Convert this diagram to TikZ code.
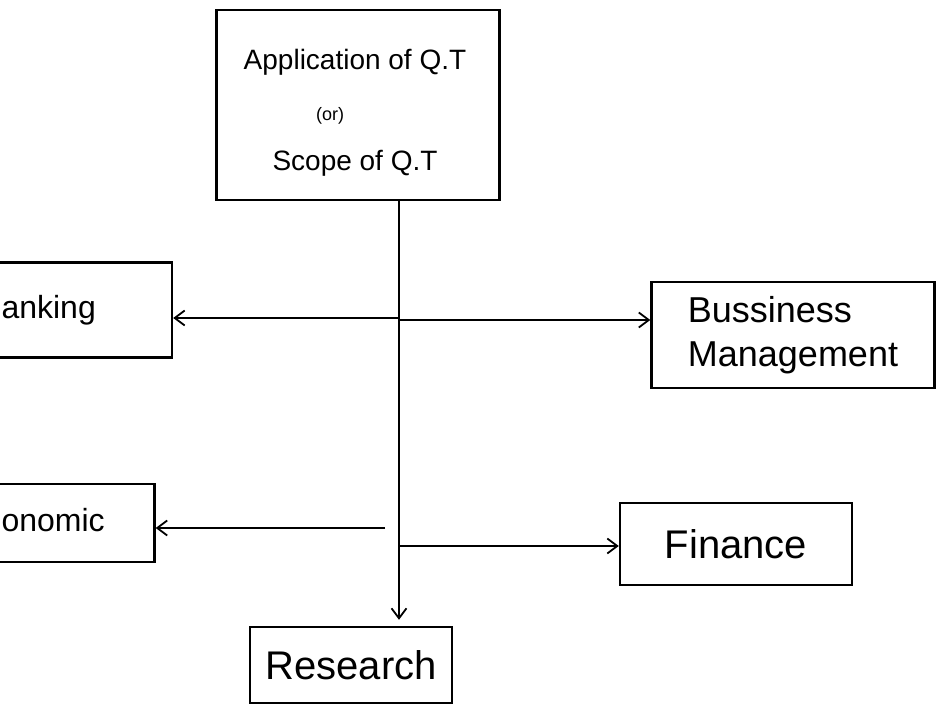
\documentclass[tikz,border=0pt]{standalone}
\usepackage{fontspec}
\setmainfont{Liberation Sans}
\usetikzlibrary{arrows.meta}
\begin{document}
\begin{tikzpicture}[x=1pt,y=-1pt,
		box/.style={draw, line width=2.4pt, inner sep=0pt},
		conn/.style={line width=2.2pt, -{Straight Barb[length=10pt,width=15pt,line width=1.8pt]}},
		big/.style={font=\fontsize{36}{44}\selectfont},
		mid/.style={font=\fontsize{28}{34}\selectfont}
	]
		\useasboundingbox (0,0) rectangle (943,706);
		% top box
		\node[box, minimum width=283pt, minimum height=190pt] (app) at (358,105) {};
		\node[mid] (apptop) at (355,62) {Application of Q.T};
		\node[font=\fontsize{18}{20}\selectfont] (appor) at (330,116) {(or)};
		\node[mid] (appbot) at (355,163) {Scope of Q.T};
		% side boxes
		\node[box, minimum width=192pt, minimum height=95pt] (bank) at (76,310) {};
		\node[font=\fontsize{32}{38}\selectfont, anchor=west] (banktxt) at (-2,310) {anking};
		\node[box, big, align=left, minimum width=283pt, minimum height=106pt] (bus) at (793,335) {Bussiness\\Management};
		\node[box, minimum width=175pt, minimum height=78pt] (eco) at (67,523) {};
		\node[font=\fontsize{32}{38}\selectfont, anchor=west] (ecotxt) at (-2,520) {onomic};
		\node[box, font=\fontsize{40}{46}\selectfont, minimum width=232pt, minimum height=82pt] (fin) at (736,544) {Finance};
		\node[box, font=\fontsize{40}{46}\selectfont, minimum width=202pt, minimum height=76pt] (res) at (351,665) {Research};
		% connectors
		\coordinate (vtop) at (399,200);
		\coordinate (b1) at (399,318);
		\coordinate (b2) at (399,320);
		\coordinate (e1) at (385,528);
		\coordinate (f1) at (399,546);
		\draw[conn, shorten >=6pt] (vtop) -- (vtop |- res.north);
		\draw[conn] (b1) -- (bank.east |- b1);
		\draw[conn] (b2) -- (bus.west |- b2);
		\draw[conn] (e1) -- (eco.east |- e1);
		\draw[conn] (f1) -- (fin.west |- f1);
	\end{tikzpicture}
\end{document}
